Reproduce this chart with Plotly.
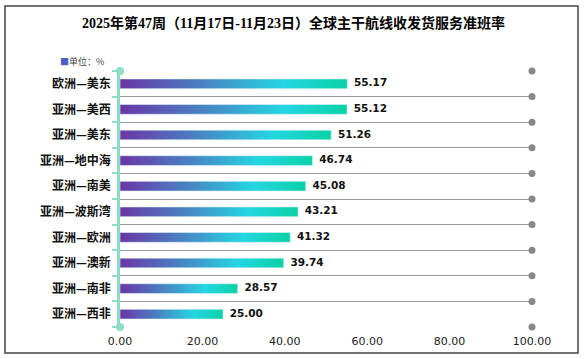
import plotly.graph_objects as go

categories = ["欧洲—美东", "亚洲—美西", "亚洲—美东", "亚洲—地中海", "亚洲—南美",
              "亚洲—波斯湾", "亚洲—欧洲", "亚洲—澳新", "亚洲—南非", "亚洲—西非"]
values = [55.17, 55.12, 51.26, 46.74, 45.08, 43.21, 41.32, 39.74, 28.57, 25.00]
x_ticks = [0, 20, 40, 60, 80, 100]
title_text = "2025年第47周（11月17日-11月23日）全球主干航线收发货服务准班率"
unit_text = "单位：%"

W, H = 586, 359
L, R, T, B = 120, 54, 71, 32
pw, ph = W - L - R, H - T - B

n = len(categories)
ypos = list(range(n))
bounds = [i - 0.5 for i in range(n + 1)]
half = 0.19  # half bar thickness in category units

grad = [[0, "#6a35a6"], [0.35, "#4a7fc2"], [0.72, "#24d6e2"], [1, "#08d2a6"]]

fig = go.Figure()

# gradient bars (each rectangle derived from its data value)
for i, v in enumerate(values):
    fig.add_trace(go.Scatter(
        x=[0, v, v, 0, 0],
        y=[i - half, i - half, i + half, i + half, i - half],
        mode="lines", line=dict(width=1, color="rgba(220,240,245,0.6)"),
        fill="toself",
        fillgradient=dict(type="horizontal", colorscale=grad, start=0, stop=v),
        hoverinfo="skip", showlegend=False,
    ))

# value labels
fig.add_trace(go.Scatter(
    x=values, y=ypos, mode="text",
    text=[f"  <b>{v:.2f}</b>" for v in values],
    textposition="middle right",
    textfont=dict(family="DejaVu Sans", size=10.5, color="#111111"),
    cliponaxis=False, showlegend=False, hoverinfo="skip",
))

# grey dots at right end of grid lines
fig.add_trace(go.Scatter(
    x=[x_ticks[-1]] * len(bounds), y=bounds, mode="markers",
    marker=dict(size=7, color="#888888"),
    cliponaxis=False, showlegend=False, hoverinfo="skip",
))

# teal dots on the axis line ends
fig.add_trace(go.Scatter(
    x=[0, 0], y=[bounds[0], bounds[-1]], mode="markers",
    marker=dict(size=8, color="#8ddcc4"),
    cliponaxis=False, showlegend=False, hoverinfo="skip",
))

fig.update_xaxes(
    range=[0, 100], tickvals=x_ticks, ticktext=[f"{t:.2f}" for t in x_ticks],
    showgrid=False, zeroline=False, showline=False, ticks="",
    tickfont=dict(family="DejaVu Sans", size=11, color="#222222"),
    ticklabelstandoff=6,
)
fig.update_yaxes(
    range=[n - 0.5, -0.5], tickvals=ypos, ticktext=categories,
    showgrid=False, zeroline=False, ticks="",
    showline=True, linecolor="#8ddcc4", linewidth=2.5,
    tickfont=dict(family="Noto Sans CJK SC", size=12, color="#111111", weight="bold"),
    ticklabelstandoff=4,
    minor=dict(tickvals=bounds, ticks="outside", ticklen=5, tickcolor="#8ddcc4",
               tickwidth=2, showgrid=True, gridcolor="#9a9a9a", gridwidth=1.2),
)

# frame
def px2x(p):
    return (p - L) / pw

def px2y(p):
    return (H - B - p) / ph

fig.add_shape(type="rect", xref="paper", yref="paper",
              x0=px2x(5), x1=px2x(578), y0=px2y(6), y1=px2y(353),
              line=dict(color="#444444", width=1.5), layer="below")

fig.add_annotation(text=f"<b>{title_text}</b>", xref="paper", yref="paper",
                   x=px2x(293), y=px2y(23), xanchor="center", yanchor="middle",
                   showarrow=False,
                   font=dict(family="Liberation Serif, Noto Sans CJK SC", size=14,
                             color="#000000"))
fig.add_annotation(text=f"<span style='color:#4a5fc8'>■</span>{unit_text}",
                   xref="paper", yref="paper", xanchor="left", yanchor="middle",
                   x=px2x(58), y=px2y(61), showarrow=False,
                   font=dict(family="Noto Sans CJK SC", size=9, color="#444444"))

fig.update_layout(
    width=W, height=H, margin=dict(l=L, r=R, t=T, b=B),
    paper_bgcolor="white", plot_bgcolor="white",
    showlegend=False,
)

fig.write_html("out.html", config={"displayModeBar": False},
               post_script="document.body.style.margin='0';")
